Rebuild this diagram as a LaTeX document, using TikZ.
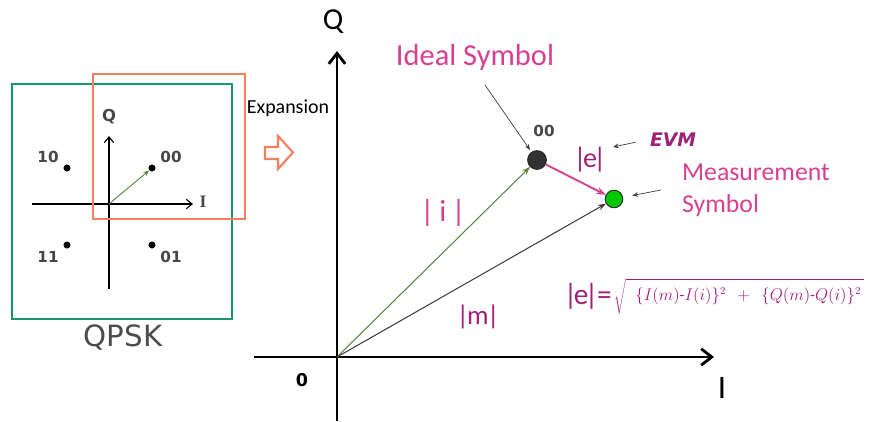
\documentclass[tikz,border=0pt]{standalone}
\usepackage{fontspec}
\setmainfont{Carlito}
\newfontfamily\dejavu{DejaVu Sans}
\newfontfamily\serifb{Liberation Serif}
\usepackage{tikz}
\usetikzlibrary{arrows.meta}

\definecolor{boxgreen}{RGB}{20,150,110}
\definecolor{boxorange}{RGB}{240,128,96}
\definecolor{vecgreen}{RGB}{90,135,60}
\definecolor{symbolpink}{RGB}{214,64,145}
\definecolor{evmmag}{RGB}{160,32,120}
\definecolor{dotgray}{RGB}{50,50,50}
\definecolor{lblgray}{RGB}{70,70,70}
\definecolor{measgreen}{RGB}{0,200,0}

\tikzset{
  axisline/.style={line width=2.4pt, -{Straight Barb[length=9pt,width=14pt]}},
  smallaxis/.style={line width=0.9pt, -{Straight Barb[length=5pt,width=8pt]}},
  vec/.style={line width=0.9pt, -{Stealth[length=7pt,width=5pt]}},
  pointer/.style={line width=0.6pt, black!75, -{Stealth[length=5pt,width=4pt]}},
  constdot/.style={circle, fill=black, inner sep=0pt, minimum size=6pt},
  symdot/.style={circle, draw=black!85, line width=0.8pt, inner sep=0pt, minimum size=16pt},
  bitlabel/.style={font=\dejavu\bfseries\fontsize{13}{15}\selectfont, text=lblgray, inner sep=1pt},
}

\begin{document}
\begin{tikzpicture}[x=0.03cm,y=-0.03cm]
	\useasboundingbox (0,0) rectangle (873,421);

	% QPSK constellation
	\draw[boxgreen, line width=1.5pt] (12,84) rectangle (232,319);
	\coordinate (so) at (109,204);
	\coordinate (sileft) at (32,204);
	\coordinate (siright) at (193,204);
	\coordinate (sqbot) at (109,289);
	\coordinate (sqtop) at (109,136);
	\draw[smallaxis] (sileft) -- (siright);
	\draw[smallaxis] (sqbot) -- (sqtop);
	\node[font=\dejavu\bfseries\fontsize{14}{16}\selectfont, text=lblgray] (sq) at (109,117) {Q};
	\node[font=\serifb\bfseries\fontsize{15}{17}\selectfont, text=lblgray] (si) at (203,202) {I};

	\node[constdot] (c10) at (67,168) {};
	\node[constdot] (c00) at (152,168) {};
	\node[constdot] (c11) at (67,245) {};
	\node[constdot] (c01) at (152,245) {};
	\node[bitlabel] at (48,157) {10};
	\node[bitlabel] at (171,157) {00};
	\node[bitlabel] at (48,257) {11};
	\node[bitlabel] at (171,257) {01};
	\draw[vecgreen, line width=0.8pt, -{Stealth[length=5pt,width=4pt]}] (so) -- (c00);

	\draw[boxorange, line width=2.2pt] (93,74) rectangle (245,219);
	\node[font=\dejavu\fontsize{25}{28}\selectfont, text=black!70] (qpsk) at (123,338) {QPSK};

	% expansion arrow
	\node[font=\fontsize{17}{19}\selectfont] (expansion) at (288,108) {Expansion};
	\draw[boxorange, line width=1.8pt, line join=miter]
		(265,147) -- (278,147) -- (278,136) -- (293,152.5) -- (278,169) -- (278,159) -- (265,159) -- cycle;

	% big I/Q plane
	\coordinate (o) at (337,357);
	\coordinate (ileft) at (254,357);
	\coordinate (iright) at (714,357);
	\coordinate (qbot) at (337,421);
	\coordinate (qtop) at (337,51);
	\draw[axisline] (ileft) -- (iright);
	\draw[axisline] (qbot) -- (qtop);
	\node[font=\fontsize{26}{30}\selectfont] (bigq) at (333,22) {Q};
	\node[font=\fontsize{28}{30}\selectfont] (bigi) at (722,388) {I};
	\node[font=\dejavu\bfseries\fontsize{15}{17}\selectfont] (zero) at (302,380) {0};

	\node[symdot, fill=dotgray] (ideal) at (537,160) {};
	\node[symdot, fill=measgreen, minimum size=15pt] (meas) at (614,199) {};
	\node[bitlabel] at (544,131) {00};

	\draw[vec, vecgreen] (o) -- (ideal);
	\draw[vec, black!75] (o) -- (meas);
	\draw[symbolpink, line width=1.6pt, -{Stealth[length=8pt,width=6pt]}] (ideal) -- (meas);

	\node[font=\fontsize{26}{30}\selectfont, text=symbolpink] (idealtxt) at (475,57) {Ideal Symbol};
	\coordinate (idealtail) at (485,85);
	\draw[pointer, shorten >=2pt] (idealtail) -- (ideal);

	\node[font=\fontsize{22}{27}\selectfont, text=symbolpink, align=left, anchor=west] (meastxt) at (678,190) {Measurement\\Symbol};
	\coordinate (meastail) at (661,190);
	\draw[pointer, shorten >=8pt] (meastail) -- (meas);

	\node[font=\dejavu\bfseries\itshape\fontsize{16}{18}\selectfont, text=evmmag] (evm) at (673,140) {EVM};
	\coordinate (evmtip) at (613,147);
	\draw[pointer, shorten <=9pt] (evm.west) -- (evmtip);

	\node[font=\fontsize{24}{28}\selectfont, text=evmmag] (elbl) at (590,160) {|\kern-3pt e\kern-3pt|};
	\node[font=\fontsize{26}{30}\selectfont, text=symbolpink] (ilbl) at (443,213) {|\,i\,|};
	\node[font=\fontsize{23}{26}\selectfont, text=evmmag] (mlbl) at (478,317) {|\kern-1.5pt m\kern-1.5pt|};

	% EVM formula
	\node[font=\fontsize{25}{28}\selectfont, text=evmmag, anchor=east, inner sep=0pt] (evmeq) at (612,296) {|\kern-3pt e\kern-3pt|\kern-1pt=};
	\node[text=evmmag, anchor=west, inner sep=0pt, font=\fontsize{13.5}{15}\selectfont] (evmroot) at (614,296)
		{$\sqrt{\vphantom{\bigg|}\makebox[203pt][l]{\hspace{8pt}$\{I(m)\mbox{-}I(i)\}^2\;\,+\;\,\{Q(m)\mbox{-}Q(i)\}^2$}}$};
\end{tikzpicture}
\end{document}
